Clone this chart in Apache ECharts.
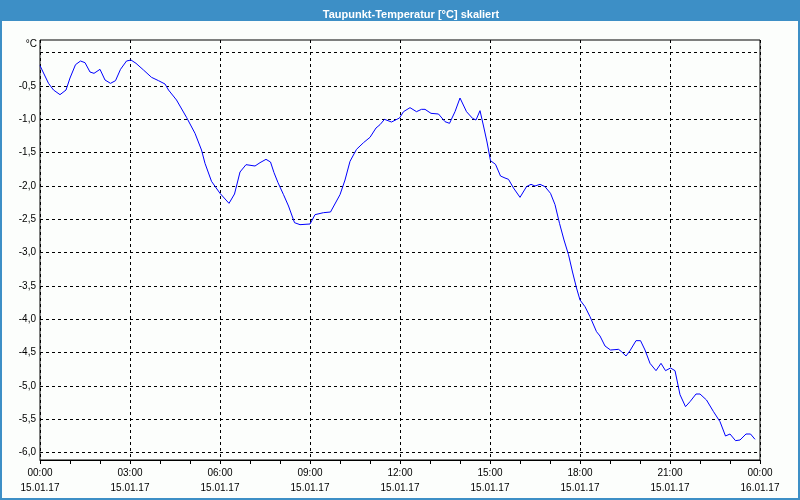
<!DOCTYPE html>
<html>
<head>
<meta charset="utf-8">
<script src="https://cdn.jsdelivr.net/npm/echarts@6/dist/echarts.min.js"></script>
<style>
html,body{margin:0;padding:0;background:#fcfefc;}
#c{width:800px;height:500px;}
</style>
</head>
<body>
<div id="c"></div>
<script>
// minutes since 15.01.17 00:00
var times = [0,2,17,27,40,52,60,71,81,90,100,108,120,130,141,151,161,173,182,192,207,223,237,250,257,273,293,310,323,330,343,360,378,389,400,412,430,440,452,461,468,476,487,497,509,520,540,550,567,581,600,610,620,633,647,660,672,680,689,703,719,727,740,753,763,770,782,797,810,819,830,840,853,865,872,880,887,894,901,911,921,930,937,947,960,973,982,990,1000,1010,1021,1030,1039,1048,1057,1065,1073,1080,1090,1100,1113,1120,1130,1141,1157,1163,1172,1180,1192,1201,1210,1220,1232,1242,1251,1261,1270,1280,1291,1300,1312,1320,1333,1347,1360,1371,1380,1391,1400,1412,1421,1430];
var values = [-0.195,-0.20,-0.46,-0.56,-0.63,-0.56,-0.38,-0.18,-0.125,-0.15,-0.29,-0.31,-0.25,-0.41,-0.46,-0.42,-0.25,-0.125,-0.11,-0.16,-0.26,-0.37,-0.42,-0.47,-0.56,-0.71,-0.97,-1.21,-1.46,-1.66,-1.93,-2.11,-2.26,-2.12,-1.79,-1.68,-1.70,-1.65,-1.60,-1.64,-1.80,-1.95,-2.13,-2.30,-2.55,-2.58,-2.57,-2.43,-2.40,-2.39,-2.13,-1.91,-1.63,-1.45,-1.35,-1.27,-1.13,-1.08,-1.00,-1.04,-0.98,-0.885,-0.825,-0.885,-0.85,-0.85,-0.91,-0.92,-1.035,-1.06,-0.885,-0.68,-0.885,-0.985,-1.01,-0.87,-1.10,-1.34,-1.62,-1.675,-1.85,-1.88,-1.90,-2.03,-2.17,-2.01,-1.975,-2.0,-1.975,-2.01,-2.11,-2.28,-2.56,-2.81,-3.03,-3.29,-3.53,-3.71,-3.81,-3.96,-4.185,-4.25,-4.40,-4.46,-4.45,-4.485,-4.55,-4.47,-4.32,-4.32,-4.46,-4.66,-4.77,-4.66,-4.77,-4.73,-4.77,-5.13,-5.31,-5.235,-5.12,-5.12,-5.21,-5.385,-5.535,-5.75,-5.72,-5.82,-5.81,-5.72,-5.72,-5.80];
var xTickTimes = ['00:00','03:00','06:00','09:00','12:00','15:00','18:00','21:00','00:00'];
var xTickDates = ['15.01.17','15.01.17','15.01.17','15.01.17','15.01.17','15.01.17','15.01.17','15.01.17','16.01.17'];
var titleText = 'Taupunkt-Temperatur [°C] skaliert';
var unitText = '°C';

var FONT = 'Liberation Sans';
var chart = echarts.init(document.getElementById('c'), null, {renderer:'canvas'});
var data = times.map(function(t,i){return [t, values[i]];});
chart.setOption({
  animation:false,
  backgroundColor:'#fcfefc',
  title:{text:titleText,left:406,textAlign:'center',top:4,textStyle:{color:'#ffffff',fontFamily:FONT,fontSize:11,fontWeight:'bold'}},
  graphic:[
    {type:'rect',z:-10,shape:{x:0,y:0,width:800,height:21},style:{fill:'#3d8fc6'}},
    {type:'rect',z:-10,shape:{x:1,y:1,width:798,height:498},style:{fill:null,stroke:'#3d8fc6',lineWidth:2}},
    {type:'text',x:37,y:44,style:{text:unitText,align:'right',verticalAlign:'middle',fill:'#000',font:'10px "Liberation Sans"'}}
  ],
  grid:[
    {left:40,width:720,top:52.67,height:400,show:false},
    {left:40,width:720,top:40,height:420,show:true,borderColor:'#000',borderWidth:1,backgroundColor:'transparent'}
  ],
  xAxis:[
    {gridIndex:0,type:'value',min:0,max:1440,show:false},
    {gridIndex:1,type:'value',min:0,max:1440,interval:180,
     axisLine:{show:true,onZero:false,lineStyle:{color:'#000',width:1}},
     axisTick:{show:true,inside:false,length:4,lineStyle:{color:'#000'}},
     minorTick:{show:true,splitNumber:3,length:4,lineStyle:{color:'#000'}},
     splitLine:{show:true,lineStyle:{color:'#000',type:[3,3],width:1}},
     axisLabel:{show:true,margin:6,color:'#000',fontFamily:FONT,fontSize:10,lineHeight:15,showMinLabel:true,showMaxLabel:true,
       formatter:function(v){var i=Math.round(v/180);return xTickTimes[i]+'\n'+xTickDates[i];}}
    }
  ],
  yAxis:[
    {gridIndex:0,type:'value',min:-6,max:0,interval:0.5,
     axisLine:{show:false},axisTick:{show:false},
     splitLine:{show:true,lineStyle:{color:'#000',type:[3,3],width:1}},
     axisLabel:{margin:4,color:'#000',fontFamily:FONT,fontSize:10,showMinLabel:true,showMaxLabel:true,
       formatter:function(v){if(Math.abs(v)<1e-9)return '';return v.toFixed(1).replace('.',',');}}
    },
    {gridIndex:1,type:'value',min:0,max:1,show:false}
  ],
  series:[{type:'line',xAxisIndex:0,yAxisIndex:0,data:data,symbol:'none',smooth:false,
    lineStyle:{color:'#0000ff',width:1},z:5}]
});
</script>
</body>
</html>
